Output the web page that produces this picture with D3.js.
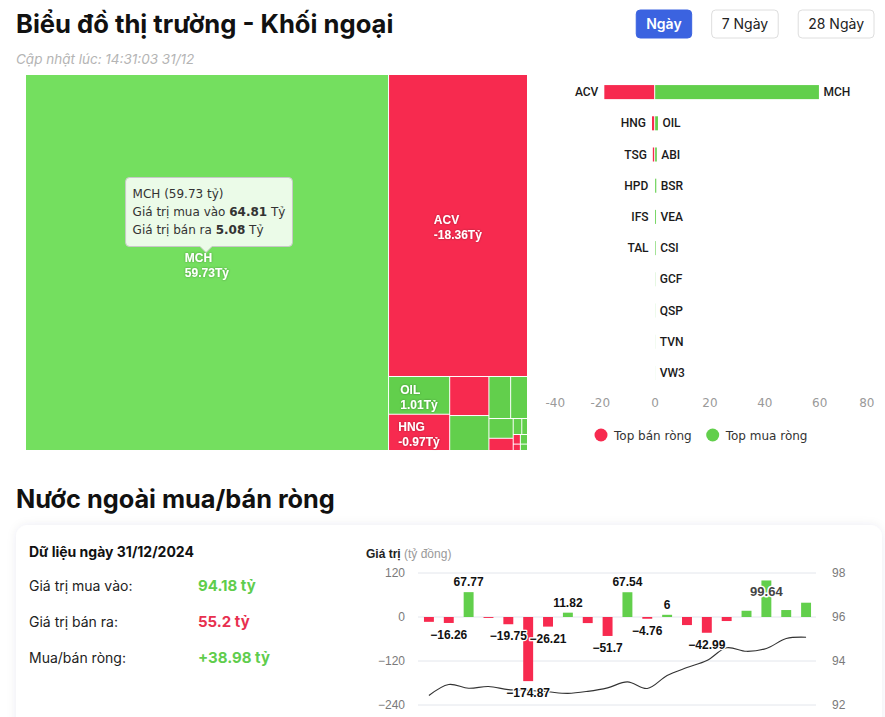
<!DOCTYPE html>
<html><head><meta charset="utf-8">
<script src="https://cdn.jsdelivr.net/npm/d3@7/dist/d3.min.js"></script>
<style>
body{margin:0;background:#fff;}
svg{display:block;}
</style></head><body>
<svg id="c" width="885" height="717"></svg>
<script>
// ---------------- data ----------------
const pageTitle = "Biểu đồ thị trường - Khối ngoại";
const updatedText = "Cập nhật lúc: 14:31:03 31/12";
const periodButtons = ["Ngày", "7 Ngày", "28 Ngày"];
const activeButton = "Ngày";

const sellNames  = ["ACV", "HNG", "TSG", "HPD", "IFS", "TAL"];
const sellValues = [-18.36, -0.97, -0.67, -0.13, -0.03, -0.02];
const buyNames   = ["MCH", "OIL", "ABI", "BSR", "VEA", "CSI", "GCF", "QSP", "TVN", "VW3"];
const buyValues  = [59.73, 1.01, 0.60, 0.40, 0.31, 0.21, 0.06, 0.04, 0.03, 0.02];
const topAxisTicks = [-40, -20, 0, 20, 40, 60, 80];
const legendLabels = ["Top bán ròng", "Top mua ròng"];

const tooltipStock = "MCH";
const tooltipBuy = 64.81;
const tooltipSell = 5.08;

const sectionTitle = "Nước ngoài mua/bán ròng";
const summaryDate = "31/12/2024";
const summaryBuy = 94.18;
const summarySell = 55.2;
const summaryNet = 38.98;

const dayLabels = ["04/12","05/12","06/12","09/12","10/12","11/12","12/12","13/12","16/12","17/12",
                   "18/12","19/12","20/12","23/12","24/12","25/12","26/12","27/12","30/12","31/12"];
const netValues = [-13.2, -16.26, 67.77, -2.5, -19.75, -174.87, -26.21, 11.82, -16.6, -51.7,
                   67.54, -4.76, 6, -22, -42.99, -11, 17, 99.64, 19, 38.98];
const lineValues = [92.43, 92.93, 92.76, 92.84, 92.7, 92.67, 92.6, 92.53, 92.62, 92.78,
                    93.05, 92.75, 93.34, 93.7, 94.02, 94.6, 94.44, 94.57, 95.02, 95.08];
const leftTicks = [-240, -120, 0, 120];
const rightTicks = [92, 94, 96, 98];

// ---------------- styles ----------------
const RED = "#f72a4f", GREEN = "#62cf4c", GREEN_HOVER = "#74df5f";
const HEAD = "Inter, 'Noto Sans', sans-serif";
const ARIAL = "'Liberation Sans', Arial, sans-serif";
const DEJAVU = "'DejaVu Sans', Verdana, sans-serif";

const svg = d3.select("#c");
const defs = svg.append("defs");
const sh = defs.append("filter").attr("id", "sh").attr("x", "-5%").attr("y", "-20%").attr("width", "110%").attr("height", "140%");
sh.append("feDropShadow").attr("dx", 0).attr("dy", 0).attr("stdDeviation", 5).attr("flood-color", "#1e2a50").attr("flood-opacity", 0.08);
const ts = defs.append("filter").attr("id", "ts").attr("x", "-10%").attr("y", "-10%").attr("width", "120%").attr("height", "130%");
ts.append("feDropShadow").attr("dx", 0).attr("dy", 0).attr("stdDeviation", 0.8).attr("flood-color", "#000").attr("flood-opacity", 0.35);

svg.append("rect").attr("width", 885).attr("height", 717).attr("fill", "#fff");

// ---------------- header ----------------
svg.append("text").attr("x", 16).attr("y", 33).text(pageTitle)
  .style("font-family", HEAD).style("font-weight", 700).style("font-size", "25.6px").attr("fill", "#111");
svg.append("text").attr("x", 16).attr("y", 64).text(updatedText)
  .style("font-family", HEAD).style("font-style", "italic").style("font-size", "13.5px").attr("fill", "#b4b4b4");

// buttons (right aligned)
{
  let xEnd = 874;
  const g = svg.append("g");
  [...periodButtons].reverse().forEach(lbl => {
    const active = lbl === activeButton;
    const t = g.append("text").text(lbl).attr("y", 29)
      .style("font-family", HEAD).style("font-size", "14px").style("font-weight", active ? 600 : 400)
      .attr("fill", active ? "#fff" : "#222").attr("text-anchor", "middle");
    const w = t.node().getComputedTextLength() + 20;
    const x = xEnd - w;
    g.insert("rect", "text").attr("x", x).attr("y", 10).attr("width", w).attr("height", 28).attr("rx", 4)
      .attr("fill", active ? "#3b63e0" : "#fff").attr("stroke", active ? "#3b63e0" : "#dedede");
    t.attr("x", x + w / 2);
    xEnd = x - 20;
  });
}

// ---------------- treemap ----------------
const tmItems = sellNames.map((n, i) => ({ name: n, value: sellValues[i] }))
  .concat(buyNames.map((n, i) => ({ name: n, value: buyValues[i] })));
const root = d3.hierarchy({ children: tmItems })
  .sum(d => d.children ? 0 : Math.abs(d.value))
  .sort((a, b) => b.value - a.value);
d3.treemap().size([501, 375]).paddingInner(1).tile(d3.treemapSquarify)(root);

const tm = svg.append("g").attr("transform", "translate(26,75)");
const cells = tm.selectAll("g.cell").data(root.leaves()).join("g").attr("class", "cell");
cells.append("rect")
  .attr("x", d => d.x0).attr("y", d => d.y0)
  .attr("width", d => Math.max(0, d.x1 - d.x0)).attr("height", d => Math.max(0, d.y1 - d.y0))
  .attr("fill", d => d.data.value < 0 ? RED : (d.data.name === tooltipStock ? GREEN_HOVER : GREEN));
cells.each(function (d) {
  const g = d3.select(this);
  const cx = (d.x0 + d.x1) / 2, cy = (d.y0 + d.y1) / 2;
  const t = g.append("text").attr("filter", "url(#ts)")
    .style("font-family", ARIAL).style("font-weight", 700).style("font-size", "12px").attr("fill", "#fff");
  t.append("tspan").attr("x", 0).attr("y", -1).text(d.data.name);
  t.append("tspan").attr("x", 0).attr("y", 14).text(d.data.value.toFixed(2) + "Tỷ");
  const bb = t.node().getBBox();
  if (bb.width + 10 > d.x1 - d.x0 || 30 > d.y1 - d.y0) { t.remove(); return; }
  t.attr("transform", `translate(${cx - bb.width / 2},${cy})`);
});

// tooltip on the hovered cell
{
  const node = root.leaves().find(d => d.data.name === tooltipStock);
  const tipX = (node.x0 + node.x1) / 2 + 26 - 1;
  const tipY = (node.y0 + node.y1) / 2 + 75 - 10;
  const g = svg.append("g");
  const lines = g.append("text").style("font-family", DEJAVU).style("font-size", "12px").attr("fill", "#333");
  const val = buyValues[buyNames.indexOf(tooltipStock)];
  lines.append("tspan").attr("x", 0).attr("y", 0).text(`${tooltipStock} (${val} tỷ)`);
  const l2 = lines.append("tspan").attr("x", 0).attr("y", 18);
  l2.append("tspan").text("Giá trị mua vào ");
  l2.append("tspan").style("font-weight", 700).text(tooltipBuy);
  l2.append("tspan").text(" Tỷ");
  const l3 = lines.append("tspan").attr("x", 0).attr("y", 36);
  l3.append("tspan").text("Giá trị bán ra ");
  l3.append("tspan").style("font-weight", 700).text(tooltipSell);
  l3.append("tspan").text(" Tỷ");
  const bb = lines.node().getBBox();
  const w = bb.width + 14, h = 69;
  const left = tipX - w / 2 + 3, top = tipY - 6 - h;
  const r = 4;
  const p = d3.path();
  p.moveTo(left + r, top);
  p.lineTo(left + w - r, top); p.arcTo(left + w, top, left + w, top + r, r);
  p.lineTo(left + w, top + h - r); p.arcTo(left + w, top + h, left + w - r, top + h, r);
  p.lineTo(tipX + 6, top + h); p.lineTo(tipX, tipY); p.lineTo(tipX - 6, top + h);
  p.lineTo(left + r, top + h); p.arcTo(left, top + h, left, top + h - r, r);
  p.lineTo(left, top + r); p.arcTo(left, top, left + r, top, r);
  p.closePath();
  g.insert("path", "text").attr("d", p.toString()).attr("fill", "rgba(255,255,255,0.86)").attr("stroke", "#c8c8c8");
  lines.attr("transform", `translate(${left + 7},${top + 20})`);
}

// ---------------- top buy / sell bar chart ----------------
{
  const g = svg.append("g");
  const x = d3.scaleLinear().domain([topAxisTicks[0], topAxisTicks[topAxisTicks.length - 1]]).range([545, 874]);
  const rows = d3.range(Math.max(sellNames.length, buyNames.length));
  const y = d3.scaleBand().domain(rows).range([76.5, 388.5]);
  const bh = y.bandwidth() * 0.45;
  const lblStyle = s => s.style("font-family", "Roboto, " + ARIAL).style("font-weight", 500).style("font-size", "12px").attr("fill", "#1a1a1a");

  sellNames.forEach((n, i) => {
    const cy = y(i) + y.bandwidth() / 2;
    g.append("rect").attr("x", x(sellValues[i])).attr("y", cy - bh / 2)
      .attr("width", x(0) - x(sellValues[i]) - 0.5).attr("height", bh).attr("fill", RED);
    g.append("text").attr("x", x(sellValues[i]) - 6).attr("y", cy + 4).attr("text-anchor", "end").text(n).call(lblStyle);
  });
  buyNames.forEach((n, i) => {
    const cy = y(i) + y.bandwidth() / 2;
    g.append("rect").attr("x", x(0) + 0.5).attr("y", cy - bh / 2)
      .attr("width", x(buyValues[i]) - x(0)).attr("height", bh).attr("fill", GREEN);
    g.append("text").attr("x", x(buyValues[i]) + 5).attr("y", cy + 4).attr("text-anchor", "start").text(n).call(lblStyle);
  });

  const ax = g.append("g").attr("transform", "translate(0,390)")
    .call(d3.axisBottom(x).tickValues(topAxisTicks).tickSize(0).tickPadding(8).tickFormat(d => String(d)));
  ax.select(".domain").remove();
  ax.selectAll("text").style("font-family", DEJAVU).style("font-size", "12px").attr("fill", "#9a9a9a");
  const tks = ax.selectAll(".tick text").nodes();
  d3.select(tks[0]).attr("text-anchor", "start");
  d3.select(tks[tks.length - 1]).attr("text-anchor", "end");

  // legend
  const lg = g.append("g");
  const colors = [RED, GREEN];
  let lx = 601;
  legendLabels.forEach((l, i) => {
    lg.append("circle").attr("cx", lx).attr("cy", 435).attr("r", 6.5).attr("fill", colors[i]);
    const t = lg.append("text").attr("x", lx + 13).attr("y", 439.5).text(l)
      .style("font-family", DEJAVU).style("font-size", "12px").attr("fill", "#333");
    lx = lx + 13 + t.node().getComputedTextLength() + 21;
  });
}

// ---------------- section 2 ----------------
svg.append("text").attr("x", 16).attr("y", 508).text(sectionTitle)
  .style("font-family", HEAD).style("font-weight", 700).style("font-size", "25.3px").attr("fill", "#111");

svg.append("rect").attr("x", 16).attr("y", 525).attr("width", 866).attr("height", 230).attr("rx", 12)
  .attr("fill", "#fff").attr("filter", "url(#sh)");

{
  const g = svg.append("g");
  g.append("text").attr("x", 29).attr("y", 557).text("Dữ liệu ngày " + summaryDate)
    .style("font-family", HEAD).style("font-weight", 700).style("font-size", "14px").attr("fill", "#111");
  const rowsS = [
    ["Giá trị mua vào:", summaryBuy + " tỷ", "#5fcd4d"],
    ["Giá trị bán ra:", summarySell + " tỷ", "#e8304f"],
    ["Mua/bán ròng:", (summaryNet >= 0 ? "+" : "") + summaryNet + " tỷ", "#5fcd4d"]
  ];
  rowsS.forEach((r, i) => {
    const yy = 591 + i * 36;
    g.append("text").attr("x", 29).attr("y", yy).text(r[0])
      .style("font-family", HEAD).style("font-size", "14px").attr("fill", "#222");
    g.append("text").attr("x", 198).attr("y", yy).text(r[1])
      .style("font-family", HEAD).style("font-weight", 700).style("font-size", "15px").attr("fill", r[2]);
  });
}

// ---------------- bottom combo chart ----------------
{
  const g = svg.append("g");
  const t = g.append("text").attr("x", 366).attr("y", 558).style("font-family", ARIAL).style("font-size", "12px");
  t.append("tspan").style("font-weight", 700).attr("fill", "#222").text("Giá trị ");
  t.append("tspan").attr("fill", "#9a9a9a").text("(tỷ đồng)");

  const x = d3.scaleBand().domain(dayLabels).range([419, 816]);
  const yl = d3.scaleLinear().domain([leftTicks[0], leftTicks[leftTicks.length - 1]]).range([705, 573]);
  const yr = d3.scaleLinear().domain([rightTicks[0], rightTicks[rightTicks.length - 1]]).range([705, 573]);

  g.append("g").selectAll("line").data(leftTicks).join("line")
    .attr("x1", 418).attr("x2", 816).attr("y1", d => yl(d)).attr("y2", d => yl(d))
    .attr("stroke", "#e3e6ec");

  const la = g.append("g").attr("transform", "translate(418,0)")
    .call(d3.axisLeft(yl).tickValues(leftTicks).tickSize(0).tickPadding(13).tickFormat(d3.format("")));
  la.select(".domain").remove();
  la.selectAll("text").style("font-family", ARIAL).style("font-size", "12px").attr("fill", "#7a7a7a");
  const ra = g.append("g").attr("transform", "translate(816,0)")
    .call(d3.axisRight(yr).tickValues(rightTicks).tickSize(0).tickPadding(16).tickFormat(d3.format("")));
  ra.select(".domain").remove();
  ra.selectAll("text").style("font-family", ARIAL).style("font-size", "12px").attr("fill", "#7a7a7a");

  const bw = x.bandwidth() * 0.5;
  const cxOf = d => x(d) + x.bandwidth() / 2;
  g.append("g").selectAll("rect").data(netValues).join("rect")
    .attr("x", (d, i) => cxOf(dayLabels[i]) - bw / 2)
    .attr("y", d => yl(Math.max(0, d)))
    .attr("width", bw)
    .attr("height", d => Math.abs(yl(d) - yl(0)))
    .attr("fill", d => d >= 0 ? GREEN : RED);

  const line = d3.line()
    .x((d, i) => cxOf(dayLabels[i]))
    .y(d => yr(d))
    .curve(d3.curveCatmullRom.alpha(0.5));
  g.append("path").attr("d", line(lineValues)).attr("fill", "none").attr("stroke", "#333").attr("stroke-width", 1.1);

  // value labels with overlap hiding (largest bars first)
  const fmt = d3.format("");
  const top = yl(leftTicks[leftTicks.length - 1]);
  const labels = netValues.map((v, i) => {
    let by, inside = false;
    if (v >= 0) {
      by = yl(v) - 6;
      if (by - 9 < top) { by = yl(v) + 16; inside = true; }
    } else by = yl(v) + 16;
    const el = g.append("text").attr("x", cxOf(dayLabels[i])).attr("y", by).attr("text-anchor", "middle")
      .text(fmt(v))
      .style("font-family", ARIAL).style("font-weight", 700).style("font-size", inside ? "13px" : "12px")
      .attr("fill", inside ? "#444" : "#111").attr("stroke", "#fff").attr("stroke-width", inside ? 3 : 2.5)
      .attr("paint-order", "stroke").attr("stroke-linejoin", "round");
    const b = el.node().getBBox();
    const pad = inside ? 10 : 0;
    return { v, el, bb: { x: b.x - pad, y: b.y, width: b.width + 2 * pad, height: b.height } };
  });
  const shown = [];
  labels.slice().sort((a, b) => Math.abs(b.v) - Math.abs(a.v)).forEach(l => {
    const a = l.bb;
    const hit = shown.some(s => {
      const b = s.bb;
      return a.x + 0.05 < b.x + b.width && b.x < a.x + a.width - 0.05 &&
             a.y + 0.05 < b.y + b.height && b.y < a.y + a.height - 0.05;
    });
    if (hit) l.el.remove(); else shown.push(l);
  });
}
</script>
</body></html>
